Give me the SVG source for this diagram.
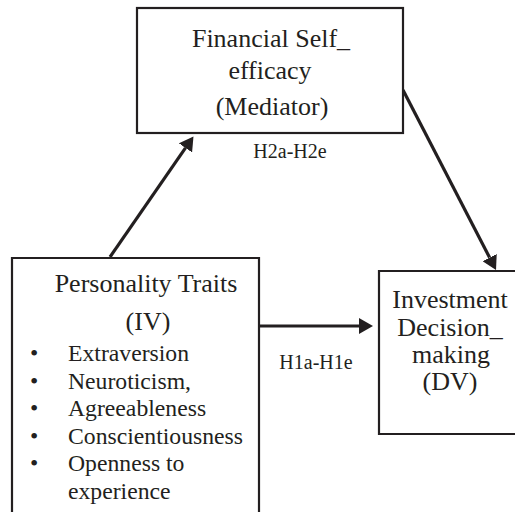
<svg xmlns="http://www.w3.org/2000/svg" width="515" height="512" viewBox="0 0 515 512">
<defs>
<style>
.box{fill:#fff;stroke:#231f20;stroke-width:2.2}
.t{font-family:"Liberation Serif","Times New Roman",serif;fill:#231f20}
.title{font-size:26px;text-anchor:middle}
.item{font-size:23.7px}
.lab{font-size:20px;text-anchor:middle}
.conn{stroke:#231f20;stroke-width:3.2;fill:none}
</style>
<marker id="ah" markerUnits="userSpaceOnUse" markerWidth="14" markerHeight="16" refX="0" refY="8" orient="auto">
<path d="M0,0 L14,8 L0,16 z" fill="#231f20"/>
</marker>
</defs>
<rect width="515" height="512" fill="#fff"/>
<g id="connectors">
<line class="conn" x1="259" y1="326" x2="359" y2="326" marker-end="url(#ah)"/>
<line class="conn" x1="110" y1="257" x2="185.5" y2="147.9" marker-end="url(#ah)"/>
<line class="conn" x1="403" y1="90" x2="489.6" y2="257.6" marker-end="url(#ah)"/>
</g>
<g id="mediator">
<rect class="box" x="137" y="8" width="266" height="125"/>
<text class="t title" x="271" y="47">Financial Self_</text>
<text class="t title" x="270" y="79">efficacy</text>
<text class="t title" x="272" y="115">(Mediator)</text>
</g>
<g id="iv">
<path class="box" d="M12,515 L12,258 L259,258 L259,515"/>
<text class="t title" x="146" y="292">Personality Traits</text>
<text class="t title" x="148" y="330">(IV)</text>
<g class="t item">
<text x="30" y="361">•</text><text x="68" y="361">Extraversion</text>
<text x="30" y="388.5">•</text><text x="68" y="388.5">Neuroticism,</text>
<text x="30" y="416">•</text><text x="68" y="416">Agreeableness</text>
<text x="30" y="443.5">•</text><text x="68" y="443.5">Conscientiousness</text>
<text x="30" y="471">•</text><text x="68" y="471">Openness to</text>
<text x="68" y="498.5">experience</text>
</g>
</g>
<g id="dv">
<path class="box" d="M518,271 L379,271 L379,434 L518,434"/>
<text class="t title" x="450" y="308">Investment</text>
<text class="t title" x="450" y="336">Decision_</text>
<text class="t title" x="451" y="363">making</text>
<text class="t title" x="450" y="390">(DV)</text>
</g>
<g id="labels">
<text class="t lab" x="290" y="158">H2a-H2e</text>
<text class="t lab" x="316" y="369">H1a-H1e</text>
</g>
</svg>
